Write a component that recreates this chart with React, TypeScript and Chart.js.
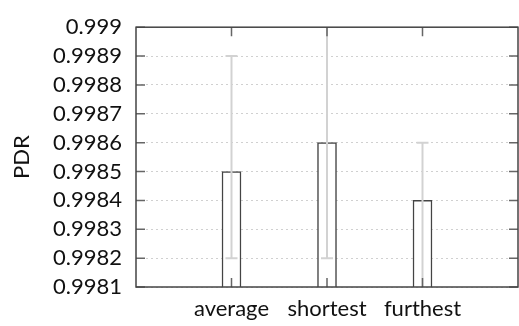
import React, { useEffect, useRef } from "react";
import { Chart, registerables } from "chart.js";

Chart.register(...registerables);

const categories = ["average", "shortest", "furthest"];
const categoryPositions = [1, 2, 3];
const pdrValues = [0.9985, 0.9986, 0.9984];
const errLow = [0.9982, 0.9982, 0.998];
const errHigh = [0.9989, 0.9992, 0.9986];
const yTickValues = [0.9981, 0.9982, 0.9983, 0.9984, 0.9985, 0.9986, 0.9987, 0.9988, 0.9989, 0.999];

const FONT = "Lato, 'DejaVu Sans', sans-serif";
const FONT_SIZE = 22;

const errorBarPlugin = {
  id: "errorBars",
  afterDatasetsDraw(chart: any) {
    const { ctx, chartArea, scales } = chart;
    const xs = scales.x;
    const ys = scales.y;
    ctx.save();
    ctx.beginPath();
    ctx.rect(chartArea.left, chartArea.top, chartArea.right - chartArea.left, chartArea.bottom - chartArea.top);
    ctx.clip();
    ctx.strokeStyle = "#d2d2d2";
    ctx.lineWidth = 2;
    categoryPositions.forEach((p, i) => {
      const x = xs.getPixelForValue(p);
      const y1 = ys.getPixelForValue(errLow[i]);
      const y2 = ys.getPixelForValue(errHigh[i]);
      ctx.beginPath();
      ctx.moveTo(x, y1);
      ctx.lineTo(x, y2);
      ctx.moveTo(x - 6, y1);
      ctx.lineTo(x + 6, y1);
      ctx.moveTo(x - 6, y2);
      ctx.lineTo(x + 6, y2);
      ctx.stroke();
    });
    ctx.restore();
  },
  afterDraw(chart: any) {
    const { ctx, chartArea, scales } = chart;
    const xs = scales.x;
    const ys = scales.y;
    const { left, right, top, bottom } = chartArea;
    ctx.save();
    ctx.strokeStyle = "#666";
    ctx.lineWidth = 1.5;
    yTickValues.forEach((v) => {
      const y = ys.getPixelForValue(v);
      ctx.beginPath();
      ctx.moveTo(left, y);
      ctx.lineTo(left + 9, y);
      ctx.moveTo(right, y);
      ctx.lineTo(right - 9, y);
      ctx.stroke();
    });
    categoryPositions.forEach((p) => {
      const x = xs.getPixelForValue(p);
      ctx.beginPath();
      ctx.moveTo(x, top);
      ctx.lineTo(x, top + 9);
      ctx.moveTo(x, bottom);
      ctx.lineTo(x, bottom - 9);
      ctx.stroke();
    });
    ctx.strokeStyle = "#444";
    ctx.lineWidth = 1.5;
    ctx.strokeRect(left, top, right - left, bottom - top);
    ctx.restore();
  },
};

export default function App() {
  const ref = useRef<HTMLCanvasElement>(null);
  useEffect(() => {
    document.body.style.margin = "0";
    const canvas = ref.current!;
    const chart = new Chart(canvas, {
      type: "bar",
      data: {
        datasets: [
          {
            label: "PDR",
            data: categoryPositions.map((p, i) => ({ x: p, y: pdrValues[i] })),
            backgroundColor: "#ffffff",
            borderColor: "#444444",
            borderWidth: 1.5,
            barThickness: 19,
          },
        ],
      },
      options: {
        animation: false,
        responsive: false,
        maintainAspectRatio: false,
        layout: { padding: { top: 19, right: 1, left: 0, bottom: 0 } },
        plugins: { legend: { display: false }, tooltip: { enabled: false } },
        scales: {
          x: {
            type: "linear",
            min: 0,
            max: 4,
            offset: false,
            afterBuildTicks: (s: any) => {
              s.ticks = categoryPositions.map((v) => ({ value: v }));
            },
            afterFit: (s: any) => {
              s.height = 39;
            },
            grid: { display: false, drawTicks: false, offset: false },
            border: { display: false },
            ticks: {
              padding: 9,
              color: "#111",
              font: { family: FONT, size: FONT_SIZE },
              maxRotation: 0,
              autoSkip: false,
              callback: (v: any) => categories[categoryPositions.indexOf(Number(v))] ?? "",
            },
          },
          y: {
            min: yTickValues[0],
            max: yTickValues[yTickValues.length - 1],
            afterBuildTicks: (s: any) => {
              s.ticks = yTickValues.map((v) => ({ value: v }));
            },
            afterFit: (s: any) => {
              s.width = 136;
            },
            grid: { color: "#d0d0d0", lineWidth: 1, drawTicks: false },
            border: { display: false, dash: [2, 3] },
            title: {
              display: true,
              text: "PDR",
              color: "#111",
              font: { family: FONT, size: FONT_SIZE },
              padding: { top: 9, bottom: 0 },
            },
            ticks: {
              padding: 14,
              color: "#111",
              font: { family: FONT, size: FONT_SIZE },
              autoSkip: false,
              callback: (v: any) => String(Number(Number(v).toFixed(4))),
            },
          },
        },
      },
      plugins: [errorBarPlugin],
    } as any);
    return () => chart.destroy();
  }, []);
  return <canvas ref={ref} width={519} height={326} style={{ display: "block" }} />;
}
